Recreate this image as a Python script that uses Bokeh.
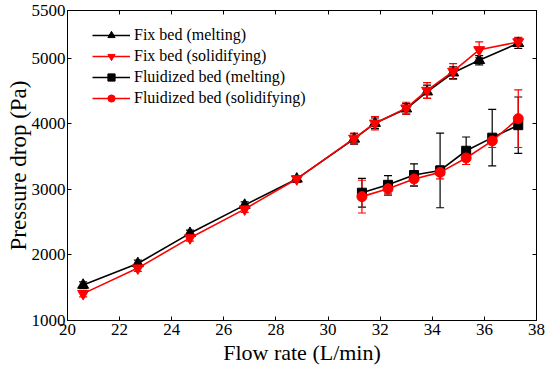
from bokeh.plotting import figure
from bokeh.models import (ColumnDataSource, Whisker, TeeHead, LinearAxis, FixedTicker,
                          Range1d, Legend, LegendItem)
from bokeh.embed import file_html
from bokeh.resources import INLINE

# ---------------- data ----------------
fix_x = [20.6, 22.7, 24.7, 26.8, 28.8, 31.0, 31.8, 33.0, 33.8, 34.8, 35.8, 37.3]
fix_melt = [1540, 1870, 2330, 2760, 3160, 3770, 4010, 4230, 4490, 4780, 4970, 5230]
fix_melt_err = [50, 50, 50, 50, 50, 80, 80, 80, 100, 90, 70, 80]
fix_solid = [1410, 1800, 2260, 2700, 3160, 3780, 4010, 4240, 4510, 4800, 5130, 5250]
fix_solid_err = [50, 50, 50, 50, 50, 80, 100, 90, 120, 120, 120, 70]

flu_x = [31.3, 32.3, 33.3, 34.3, 35.3, 36.3, 37.3]
flu_melt = [2950, 3070, 3220, 3290, 3590, 3790, 3980]
flu_melt_err = [220, 140, 170, 570, 210, 430, 430]
flu_solid = [2890, 3010, 3160, 3260, 3480, 3740, 4080]
flu_solid_err = [250, 100, 100, 100, 100, 100, 440]

x_ticks = [20, 22, 24, 26, 28, 30, 32, 34, 36, 38]
y_ticks = [1000, 2000, 3000, 4000, 5000, 5730]
y_tick_labels = {5730: "5500"}

labels = ["Fix bed (melting)", "Fix bed (solidifying)",
          "Fluidized bed (melting)", "Fluidized bed (solidifying)"]

FONT = "Liberation Serif"

p = figure(width=550, height=369, output_backend="svg", toolbar_location=None,
           x_range=Range1d(20, 38), y_range=Range1d(1000, 5730))
p.min_border_left = 67
p.min_border_right = 14
p.min_border_top = 10
p.min_border_bottom = 49
p.xgrid.visible = False
p.ygrid.visible = False
p.outline_line_color = "black"
p.outline_line_width = 1
p.background_fill_color = "white"
p.border_fill_color = "white"

def style_axis(ax, show_labels=True):
    ax.axis_line_color = "black"
    ax.major_tick_in = 4
    ax.major_tick_out = 0
    ax.minor_tick_in = 0
    ax.minor_tick_out = 0
    ax.major_tick_line_color = "black"
    ax.major_label_text_font = FONT
    if show_labels:
        ax.major_label_text_color = "black"
        ax.major_label_text_font_size = "17px"
        ax.major_label_standoff = 1
    else:
        ax.major_label_text_color = None
        ax.major_label_text_alpha = 0
        ax.major_label_text_font_size = "1px"
        ax.major_label_standoff = 0
    ax.axis_label_text_font = FONT
    ax.axis_label_text_font_style = "normal"
    ax.axis_label_text_font_size = "21px"
    ax.axis_label_text_color = "black"

xa = p.xaxis[0]
xa.ticker = FixedTicker(ticks=x_ticks)
xa.axis_label = "Flow rate (L/min)"
style_axis(xa)
xa.major_label_standoff = 3
xa.axis_label_text_font_size = "22px"
xa.axis_label_standoff = 2

ya = p.yaxis[0]
ya.ticker = FixedTicker(ticks=y_ticks)
ya.major_label_overrides = y_tick_labels
ya.axis_label = "Pressure drop (Pa)"
style_axis(ya)
ya.major_label_standoff = 2
ya.axis_label_text_font_size = "23px"
ya.axis_label_standoff = -2

top = LinearAxis(ticker=FixedTicker(ticks=x_ticks))
style_axis(top, show_labels=False)
p.add_layout(top, "above")
right = LinearAxis(ticker=FixedTicker(ticks=y_ticks))
style_axis(right, show_labels=False)
p.add_layout(right, "right")

series = [
    (fix_x, fix_melt, fix_melt_err, "black", "triangle", 11),
    (fix_x, fix_solid, fix_solid_err, "red", "inverted_triangle", 11),
    (flu_x, flu_melt, flu_melt_err, "black", "square", 9),
    (flu_x, flu_solid, flu_solid_err, "red", "circle", 10),
]

items = []
for (xs, ys, es, col, mk, sz), lab in zip(series, labels):
    src = ColumnDataSource(dict(x=xs, y=ys,
                                upper=[v + e for v, e in zip(ys, es)],
                                lower=[v - e for v, e in zip(ys, es)]))
    w = Whisker(base="x", upper="upper", lower="lower", source=src,
                line_color=col, line_width=1.2,
                upper_head=TeeHead(size=8, line_color=col, line_width=1.2),
                lower_head=TeeHead(size=8, line_color=col, line_width=1.2))
    p.add_layout(w)
    r1 = p.line("x", "y", source=src, line_color=col, line_width=1.6)
    r2 = p.scatter("x", "y", source=src, marker=mk, size=sz,
                   fill_color=col, line_color=col)
    items.append(LegendItem(label=lab, renderers=[r1, r2]))

legend = Legend(items=items, location=(25, 213))
legend.label_text_font = FONT
legend.label_text_font_size = "16px"
legend.label_text_color = "black"
legend.glyph_width = 38
legend.glyph_height = 18
legend.label_height = 18
legend.label_standoff = 4
legend.spacing = 3
legend.padding = 0
legend.margin = 0
legend.border_line_alpha = 0
legend.background_fill_alpha = 0
p.add_layout(legend, "center")

open("out.html", "w").write(file_html(p, INLINE))
